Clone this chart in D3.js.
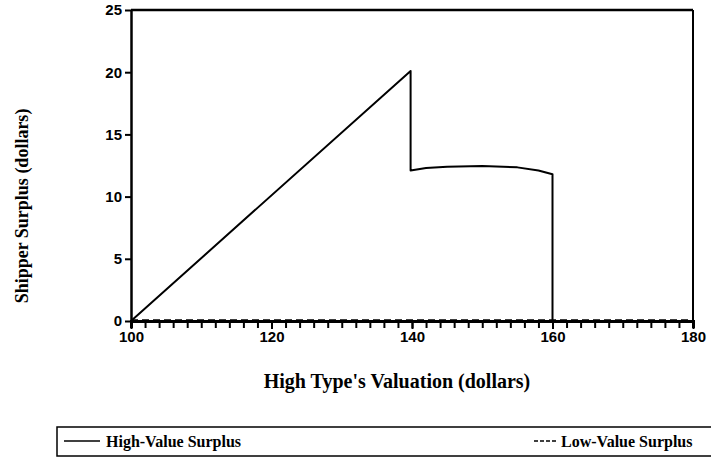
<!DOCTYPE html>
<html>
<head>
<meta charset="utf-8">
<script src="https://cdn.jsdelivr.net/npm/d3@7"></script>
<style>
  body { margin: 0; background: #fff; }
  .title { font-family: "Liberation Serif", "Times New Roman", serif; font-weight: bold; }
</style>
</head>
<body>
<div id="chart"></div>
<script>
// high type's valuation (x) and shipper surplus (y)
var highX = [100, 139.8, 139.8, 142, 145, 150, 155, 158, 160, 160];
var highY = [0, 20.1, 12.1, 12.3, 12.4, 12.45, 12.35, 12.1, 11.8, 0];
var lowX = [100, 180];
var lowY = [0, 0];
var xTicks = [100, 120, 140, 160, 180];
var yTicks = [0, 5, 10, 15, 20, 25];

function styleTicks(g) {
    g.selectAll('.tick line').attr('stroke-width', 2);
    g.selectAll('.tick text')
        .attr('font-family', '"Liberation Sans", Arial, sans-serif')
        .attr('font-weight', 'bold')
        .attr('font-size', 15);
}

function draw() {
    var width = 711, height = 460;
    var margin = {top: 10, right: 18, bottom: 139, left: 131};

    var svg = d3.select('#chart').append('svg')
        .attr('width', width)
        .attr('height', height);

    var x = d3.scaleLinear().domain([100, 180]).range([margin.left, width - margin.right]);
    var y = d3.scaleLinear().domain([0, 25]).range([height - margin.bottom, margin.top]);

    // frame top + right
    svg.append('line')
        .attr('x1', x(100)).attr('x2', x(180))
        .attr('y1', y(25)).attr('y2', y(25))
        .attr('stroke', '#000').attr('stroke-width', 2.5);
    svg.append('line')
        .attr('x1', x(180)).attr('x2', x(180))
        .attr('y1', y(25)).attr('y2', y(0))
        .attr('stroke', '#000').attr('stroke-width', 2);

    // minor x ticks
    svg.append('g')
        .attr('transform', 'translate(0,' + y(0) + ')')
        .call(d3.axisBottom(x).tickValues(d3.range(100, 181, 2)).tickSize(7).tickFormat(''))
        .call(styleTicks)
        .call(g => g.select('.domain').attr('stroke-width', 3));

    svg.append('g')
        .attr('transform', 'translate(0,' + y(0) + ')')
        .call(d3.axisBottom(x).tickValues(xTicks).tickSize(8).tickPadding(2))
        .call(styleTicks)
        .call(g => g.select('.domain').remove());

    svg.append('g')
        .attr('transform', 'translate(' + x(100) + ',0)')
        .call(d3.axisLeft(y).tickValues(yTicks).tickSize(6).tickPadding(3).tickSizeOuter(0))
        .call(styleTicks)
        .call(g => g.select('.domain').attr('stroke-width', 2.5));

    var line = d3.line()
        .x(d => x(d[0]))
        .y(d => y(d[1]));

    svg.append('path')
        .attr('fill', 'none')
        .attr('stroke', '#000')
        .attr('stroke-width', 2)
        .attr('stroke-linejoin', 'round')
        .attr('d', line(d3.zip(highX, highY)));

    svg.append('path')
        .attr('fill', 'none')
        .attr('stroke', '#000')
        .attr('stroke-width', 3.5)
        .attr('stroke-dasharray', '7,4')
        .attr('d', line(d3.zip(lowX, lowY)));

    svg.append('text')
        .attr('class', 'title')
        .style('font-size', '20px')
        .attr('x', 397).attr('y', 388)
        .attr('text-anchor', 'middle')
        .text("High Type's Valuation (dollars)");

    svg.append('text')
        .attr('class', 'title')
        .style('font-size', '18px')
        .attr('transform', 'translate(28,206) rotate(-90)')
        .attr('text-anchor', 'middle')
        .text('Shipper Surplus (dollars)');

    // legend
    var leg = svg.append('g').attr('class', 'legend');
    leg.append('rect')
        .attr('x', 57).attr('y', 427)
        .attr('width', 670).attr('height', 29)
        .attr('fill', 'none').attr('stroke', '#000').attr('stroke-width', 1.5);
    leg.append('line')
        .attr('x1', 64).attr('x2', 100).attr('y1', 441).attr('y2', 441)
        .attr('stroke', '#000').attr('stroke-width', 1.5);
    leg.append('text')
        .attr('class', 'title').style('font-size', '16px')
        .attr('x', 106).attr('y', 447)
        .text('High-Value Surplus');
    leg.append('line')
        .attr('x1', 534).attr('x2', 556).attr('y1', 441).attr('y2', 441)
        .attr('stroke', '#000').attr('stroke-width', 1.5)
        .attr('stroke-dasharray', '4,2');
    leg.append('text')
        .attr('class', 'title').style('font-size', '16px')
        .attr('x', 561).attr('y', 447)
        .text('Low-Value Surplus');
}

draw();
</script>
</body>
</html>
